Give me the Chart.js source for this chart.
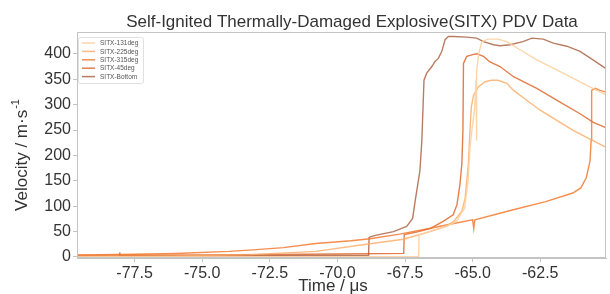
<!DOCTYPE html>
<html><head><meta charset="utf-8">
<script src="https://cdn.jsdelivr.net/npm/chart.js@4.4.1/dist/chart.umd.min.js"></script>
<style>html,body{margin:0;padding:0;background:#fff}#wrap{width:610px;height:294px}</style>
</head><body><div id="wrap"><canvas id="c" width="610" height="294"></canvas></div>
<script>
// ---- data ----
const seriesNames = ['SITX-131deg', 'SITX-225deg', 'SITX-315deg', 'SITX-45deg', 'SITX-Bottom'];
const chartTitle = 'Self-Ignited Thermally-Damaged Explosive(SITX) PDV Data';
const xTitle = 'Time / \u03bcs';
const yTitleMain = 'Velocity / m\u00b7s';
const yTitleSup = '-1';
const xTickValues = [-77.5, -75.0, -72.5, -70.0, -67.5, -65.0, -62.5];
const yTickValues = [0, 50, 100, 150, 200, 250, 300, 350, 400];

const t131 = [-79.6, -72.0, -67.0, -66.98, -66.5, -65.9, -65.6, -65.3, -65.17, -65.10, -65.03, -64.93, -64.87, -64.86, -64.85, -64.78, -64.66, -64.43, -64.06, -63.74, -63.25, -62.63, -62.02, -61.40, -60.78, -60.10];
const v131 = [0, 0.5, 1, 43, 52, 62, 70, 96, 149, 215, 249, 290, 350, 229, 365, 400, 424, 429, 429, 424, 408, 388, 372, 355, 338, 320];

const t225 = [-79.6, -76.0, -73.2, -70.8, -69.0, -67.56, -66.58, -66.0, -65.7, -65.4, -65.28, -65.22, -65.16, -65.10, -65.05, -64.97, -64.79, -64.54, -64.30, -64.06, -63.74, -63.49, -62.99, -62.50, -61.89, -61.27, -60.66, -60.10];
const v225 = [1, 2, 4.6, 11, 24.5, 35, 50, 60, 70, 90, 116, 149, 182, 249, 295, 318, 335, 345, 348, 348, 342, 328, 308, 289, 269, 249, 232, 217];

const t315 = [-79.6, -78.0, -76.0, -74.0, -73.0, -72.0, -70.8, -69.5, -68.8, -67.7, -66.6, -65.8, -65.0, -64.96, -64.92, -63.5, -62.3, -61.3, -61.0, -60.8, -60.66, -60.62, -60.60, -60.47, -60.29, -60.10];
const v315 = [4, 5, 7, 11, 14.5, 18.5, 26.5, 32, 36, 45, 56, 65, 73, 56, 73, 93, 109, 126, 136, 156, 189, 230, 328, 332, 328, 325];

const t45 = [-79.6, -75.0, -70.0, -67.55, -67.53, -67.0, -66.58, -66.09, -65.72, -65.58, -65.47, -65.40, -65.36, -65.34, -65.22, -65.03, -64.85, -64.60, -64.36, -63.99, -63.49, -62.63, -61.77, -61.03, -60.54, -60.10];
const v45 = [3, 4, 6, 7, 44, 50, 56, 70, 83, 103, 143, 183, 249, 381, 395, 398, 400, 395, 384, 375, 355, 332, 305, 282, 265, 255];

const tBot = [-78.05, -78.04, -76.0, -72.0, -70.0, -68.85, -68.83, -68.77, -68.55, -67.93, -67.44, -67.22, -67.13, -66.95, -66.88, -66.80, -66.70, -66.51, -66.39, -66.27, -66.14, -66.02, -65.90, -65.71, -65.22, -64.85, -64.60, -64.23, -63.99, -63.62, -63.14, -62.81, -62.39, -62.02, -61.52, -61.03, -60.55, -60.10];
const vBot = [9, 2, 2, 2.5, 3, 3, 38, 40, 43, 50, 60, 76, 109, 170, 229, 348, 362, 375, 385, 391, 405, 428, 434, 434, 433, 431, 424, 418, 416, 418, 424, 431, 429, 421, 415, 405, 388, 372];

const seriesColors = ['rgba(253,208,162,0.9)', 'rgba(253,174,107,0.85)', 'rgba(243,112,33,0.8)', 'rgba(217,72,1,0.7)', 'rgba(140,45,4,0.62)'];

// ---- build ----
const times = [t131, t225, t315, t45, tBot];
const vals = [v131, v225, v315, v45, vBot];
const datasets = seriesNames.map((name, i) => ({
  label: name,
  data: times[i].map((t, j) => ({x: t, y: vals[i][j]})),
  borderColor: seriesColors[i],
  backgroundColor: seriesColors[i],
  borderWidth: 1.4,
  pointRadius: 0,
  tension: 0,
  fill: false
}));

const FONT = '"Liberation Sans", Arial, sans-serif';
const textColor = '#333333';

const framePlugin = {
  id: 'frame',
  afterDatasetsDraw(chart) {
    const {ctx, chartArea: a} = chart;
    ctx.save();
    ctx.strokeStyle = '#c4c4c4';
    ctx.lineWidth = 1;
    ctx.strokeRect(Math.round(a.left) + 0.5, Math.round(a.top) + 0.5, Math.round(a.right - a.left) - 1, Math.round(a.bottom - a.top) - 1);
    ctx.restore();
  }
};

const textPlugin = {
  id: 'mtext',
  afterDraw(chart) {
    const {ctx, chartArea: a} = chart;
    ctx.save();
    ctx.fillStyle = textColor;
    // chart title
    ctx.font = '17px ' + FONT;
    ctx.textAlign = 'center';
    ctx.textBaseline = 'alphabetic';
    ctx.fillText(chartTitle, 352, 27);
    // x axis title
    ctx.font = '17px ' + FONT;
    ctx.fillText(xTitle, 333, 291);
    // y axis title (rotated) with superscript
    ctx.translate(27, 155);
    ctx.rotate(-Math.PI / 2);
    ctx.font = '17px ' + FONT;
    const wMain = ctx.measureText(yTitleMain).width;
    ctx.font = '11px ' + FONT;
    const wSup = ctx.measureText(yTitleSup).width;
    const total = wMain + wSup + 1;
    ctx.textAlign = 'left';
    ctx.font = '17px ' + FONT;
    ctx.fillText(yTitleMain, -total / 2, 0);
    ctx.font = '11px ' + FONT;
    ctx.fillText(yTitleSup, -total / 2 + wMain + 1, -8);
    ctx.restore();
  }
};

const legendPlugin = {
  id: 'mlegend',
  afterDraw(chart) {
    const {ctx, chartArea: a} = chart;
    const x0 = a.left + 1, y0 = a.top + 5, w = 65, h = 46;
    ctx.save();
    ctx.fillStyle = 'rgba(255,255,255,0.85)';
    ctx.strokeStyle = '#e0e0e0';
    ctx.lineWidth = 1;
    ctx.beginPath();
    if (ctx.roundRect) ctx.roundRect(x0 + 0.5, y0 + 0.5, w, h, 2); else ctx.rect(x0 + 0.5, y0 + 0.5, w, h);
    ctx.fill(); ctx.stroke();
    ctx.font = '6.5px ' + FONT;
    ctx.textBaseline = 'middle';
    ctx.textAlign = 'left';
    chart.data.datasets.forEach((ds, i) => {
      const y = y0 + 6 + i * 8.4;
      ctx.strokeStyle = ds.borderColor;
      ctx.lineWidth = 1.5;
      ctx.beginPath();
      ctx.moveTo(x0 + 4, y);
      ctx.lineTo(x0 + 17, y);
      ctx.stroke();
      ctx.fillStyle = '#555';
      ctx.fillText(ds.label, x0 + 22, y + 0.5);
    });
    ctx.restore();
  }
};

new Chart(document.getElementById('c'), {
  type: 'line',
  data: {datasets},
  options: {
    responsive: false,
    animation: false,
    devicePixelRatio: 1,
    layout: {padding: {left: 0, right: 4, top: 32, bottom: 0}},
    plugins: {legend: {display: false}, title: {display: false}, tooltip: {enabled: false}},
    scales: {
      x: {
        type: 'linear',
        min: -79.63, max: -60.07,
        afterFit(s) { s.height = 36; },
        afterBuildTicks(s) { s.ticks = xTickValues.map(v => ({value: v})); },
        grid: {drawOnChartArea: false, drawTicks: true, tickLength: 4, color: '#c4c4c4'},
        border: {display: true, color: '#c4c4c4'},
        ticks: {color: textColor, font: {family: FONT, size: 16}, padding: 2, maxRotation: 0,
          callback: v => Number(v).toFixed(1)},
        title: {display: false}
      },
      y: {
        type: 'linear',
        min: -2, max: 443,
        afterFit(s) { s.width = 77; },
        afterBuildTicks(s) { s.ticks = yTickValues.map(v => ({value: v})); },
        grid: {drawOnChartArea: false, drawTicks: true, tickLength: 4, color: '#c4c4c4'},
        border: {display: true, color: '#c4c4c4'},
        ticks: {color: textColor, font: {family: FONT, size: 16}, padding: 2,
          callback: v => String(v)},
        title: {display: false}
      }
    }
  },
  plugins: [framePlugin, textPlugin, legendPlugin]
});
</script>
</body></html>
